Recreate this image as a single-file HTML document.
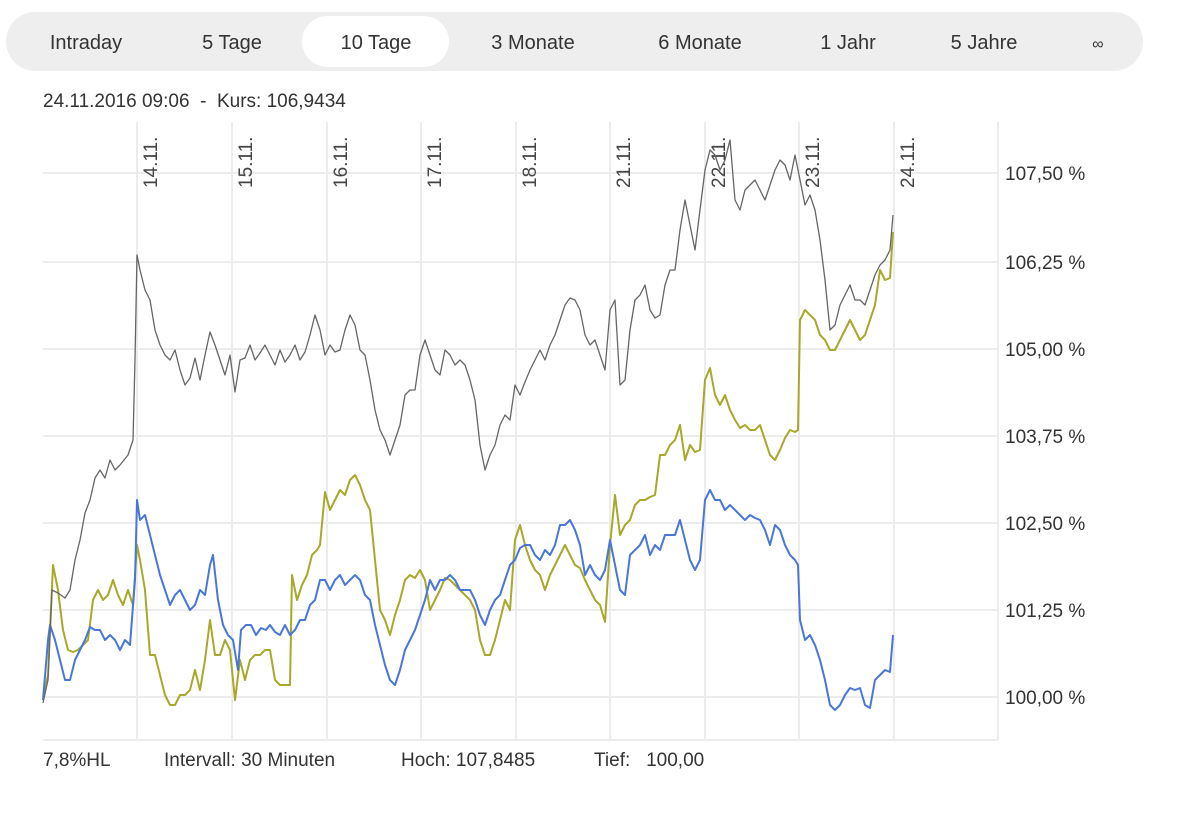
<!DOCTYPE html>
<html><head><meta charset="utf-8"><style>
body{margin:0;width:1201px;height:826px;background:#fff;overflow:hidden;font-family:"Liberation Sans",sans-serif;}
text{white-space:pre;}
</style></head><body>
<svg width="1201" height="826" xmlns="http://www.w3.org/2000/svg" style="position:absolute;left:0;top:0" xml:space="preserve">
<rect x="6" y="12" width="1137" height="59" rx="29.5" fill="#eeeeee"/>
<rect x="302" y="16" width="147" height="51" rx="25.5" fill="#fff"/>
<g font-family="Liberation Sans, sans-serif" font-size="20" fill="#333" text-anchor="middle">
<text x="86" y="49">Intraday</text><text x="232" y="49">5 Tage</text><text x="376" y="49">10 Tage</text>
<text x="533" y="49">3 Monate</text><text x="700" y="49">6 Monate</text><text x="848" y="49">1 Jahr</text>
<text x="984" y="49">5 Jahre</text><text x="1098" y="49" font-size="16">∞</text>
</g>
<text x="43" y="107" font-size="19" fill="#333">24.11.2016 09:06  -  Kurs: 106,9434</text>
<g stroke="#ececec" stroke-width="2">
<line x1="43" y1="173" x2="998" y2="173"/><line x1="43" y1="262" x2="998" y2="262"/><line x1="43" y1="349" x2="998" y2="349"/>
<line x1="43" y1="436" x2="998" y2="436"/><line x1="43" y1="523" x2="998" y2="523"/><line x1="43" y1="610" x2="998" y2="610"/>
<line x1="43" y1="697" x2="998" y2="697"/><line x1="43" y1="740" x2="998" y2="740"/>
<line x1="137" y1="122" x2="137" y2="740"/><line x1="232" y1="122" x2="232" y2="740"/><line x1="327" y1="122" x2="327" y2="740"/>
<line x1="421" y1="122" x2="421" y2="740"/><line x1="516" y1="122" x2="516" y2="740"/><line x1="610" y1="122" x2="610" y2="740"/>
<line x1="705" y1="122" x2="705" y2="740"/><line x1="799" y1="122" x2="799" y2="740"/><line x1="894" y1="122" x2="894" y2="740"/>
<line x1="998" y1="122" x2="998" y2="740"/>
</g>
<g font-size="19" fill="#333">
<text x="1005" y="180">107,50 %</text><text x="1005" y="269">106,25 %</text><text x="1005" y="356">105,00 %</text>
<text x="1005" y="443">103,75 %</text><text x="1005" y="530">102,50 %</text><text x="1005" y="617">101,25 %</text>
<text x="1005" y="704">100,00 %</text>
</g>
<g font-size="19" fill="#444">
<text transform="translate(157,188) rotate(-90)">14.11.</text><text transform="translate(252,188) rotate(-90)">15.11.</text>
<text transform="translate(347,188) rotate(-90)">16.11.</text><text transform="translate(441,188) rotate(-90)">17.11.</text>
<text transform="translate(536,188) rotate(-90)">18.11.</text><text transform="translate(630,188) rotate(-90)">21.11.</text>
<text transform="translate(725,188) rotate(-90)">22.11.</text><text transform="translate(819,188) rotate(-90)">23.11.</text>
<text transform="translate(914,188) rotate(-90)">24.11.</text>
</g>
<g fill="none" stroke-width="2" stroke-linejoin="round">
<polyline stroke="#a8a82a" points="43,700 48,675 53,565 58,590 63,630 68,650 73,652 78,650 83,645 88,640 93,600 98,590 103,600 108,595 113,580 118,595 123,605 128,590 133,605 137,545 140,560 145,590 150,655 155,655 160,675 165,695 170,705 175,705 180,695 185,695 190,690 195,670 200,690 205,660 210,620 215,655 220,655 225,640 230,650 235,700 240,660 245,680 250,660 255,655 260,655 265,650 270,650 275,680 280,685 285,685 290,685 292,575 297,600 302,585 307,575 312,555 317,550 320,545 325,492 330,510 335,500 340,490 345,495 350,480 355,475 360,485 365,500 370,510 375,560 380,610 385,620 390,635 395,615 400,600 405,580 410,575 415,578 420,570 425,580 430,610 435,600 440,590 445,578 450,580 455,585 460,590 465,595 470,600 475,610 480,640 485,655 490,655 495,640 500,620 505,600 510,610 515,540 520,525 525,545 530,560 535,570 540,575 545,590 550,575 555,565 560,555 565,545 570,555 575,565 580,568 585,580 590,590 595,600 600,605 605,622 610,545 615,495 620,535 625,525 630,520 635,505 640,500 645,500 650,497 655,495 660,455 665,455 670,445 675,440 680,425 685,460 690,445 695,452 700,450 705,380 710,368 715,395 720,405 725,395 730,410 735,420 740,428 745,425 750,430 755,430 760,425 765,440 770,455 775,460 780,450 785,438 790,430 795,432 798,430 800,320 805,310 810,315 815,320 820,335 825,340 830,350 835,350 840,340 845,330 850,320 855,330 860,340 865,335 870,320 875,305 880,270 885,280 890,278 893,232"/>
<polyline stroke="#4a77d6" points="43,700 48,640 50,625 55,640 60,660 65,680 70,680 75,660 80,650 85,640 90,627 95,630 100,630 105,640 110,635 115,640 120,650 125,640 130,645 135,580 137,500 140,520 145,515 150,535 155,555 160,575 165,590 170,605 175,595 180,590 185,600 190,610 195,605 200,590 205,595 210,565 213,555 218,600 223,625 228,635 233,640 238,670 241,630 246,625 251,625 256,635 261,628 266,630 270,625 275,632 280,635 285,625 290,635 295,630 300,620 305,620 310,605 315,600 320,580 325,580 330,590 335,580 340,575 345,585 350,580 355,575 360,580 365,595 370,600 375,625 380,645 385,665 390,680 395,685 400,670 405,650 410,640 415,630 420,615 425,600 430,580 435,590 440,580 445,580 450,575 455,580 460,590 465,590 470,590 475,600 480,615 485,625 490,610 495,600 500,595 505,580 510,565 515,560 520,548 525,545 530,545 535,555 540,560 545,550 550,555 555,545 560,525 565,525 570,520 575,530 580,545 585,575 590,565 595,575 600,580 605,570 610,540 615,565 620,590 625,595 630,555 635,550 640,545 645,535 650,555 655,545 660,550 665,535 670,535 675,535 680,520 685,540 690,560 695,570 700,560 705,500 710,490 715,500 720,500 725,510 730,505 735,510 740,515 745,520 750,515 755,518 760,520 765,530 770,545 775,525 780,530 785,545 790,555 795,560 798,565 800,620 805,640 810,635 815,645 820,660 825,680 830,705 835,710 840,705 845,695 850,688 855,690 860,688 865,705 870,708 875,680 880,675 885,670 890,672 893,635"/>
<polyline stroke="#666" stroke-width="1.3" points="43,703 48,680 52,590 58,593 65,598 70,590 75,560 80,540 85,513 90,500 95,478 100,470 105,478 110,460 115,470 120,465 128,455 133,440 135,360 137,255 140,270 145,290 150,300 155,330 160,345 165,355 170,360 175,350 180,370 185,385 190,378 195,358 200,380 205,355 210,332 215,345 220,360 225,375 230,355 235,392 240,360 245,358 250,345 255,360 260,353 265,345 270,355 275,365 280,350 285,362 290,355 295,345 300,360 305,352 310,335 315,315 320,330 325,355 330,345 335,352 340,350 345,330 350,315 355,325 360,350 365,355 370,380 375,410 380,430 385,440 390,455 395,440 400,425 405,395 410,390 415,390 420,355 425,340 430,355 435,370 440,375 445,350 450,355 455,365 460,360 465,365 470,380 475,400 480,445 485,470 490,455 495,445 500,425 505,415 510,420 515,385 520,395 525,382 530,370 535,360 540,350 545,360 550,345 555,335 560,320 565,305 570,298 575,300 580,310 585,335 590,345 595,340 600,355 605,370 610,310 615,300 620,385 625,380 630,330 635,300 640,295 645,285 650,310 655,318 660,315 665,285 670,270 675,270 680,230 685,200 690,225 695,250 700,210 705,170 710,150 715,155 720,170 725,160 730,140 735,200 740,210 745,190 750,185 755,180 760,190 765,200 770,185 775,170 780,160 785,165 790,180 795,155 800,180 805,205 810,195 815,210 820,240 825,280 830,330 835,325 840,305 845,295 850,285 855,300 860,300 865,305 870,290 875,275 880,265 885,260 890,250 893,215"/>
</g>
<g font-size="19" fill="#333">
<text x="43" y="766">7,8%HL</text><text x="164" y="766">Intervall: 30 Minuten</text>
<text x="401" y="766">Hoch: 107,8485</text><text x="594" y="766">Tief:   100,00</text>
</g>
</svg>
</body></html>
